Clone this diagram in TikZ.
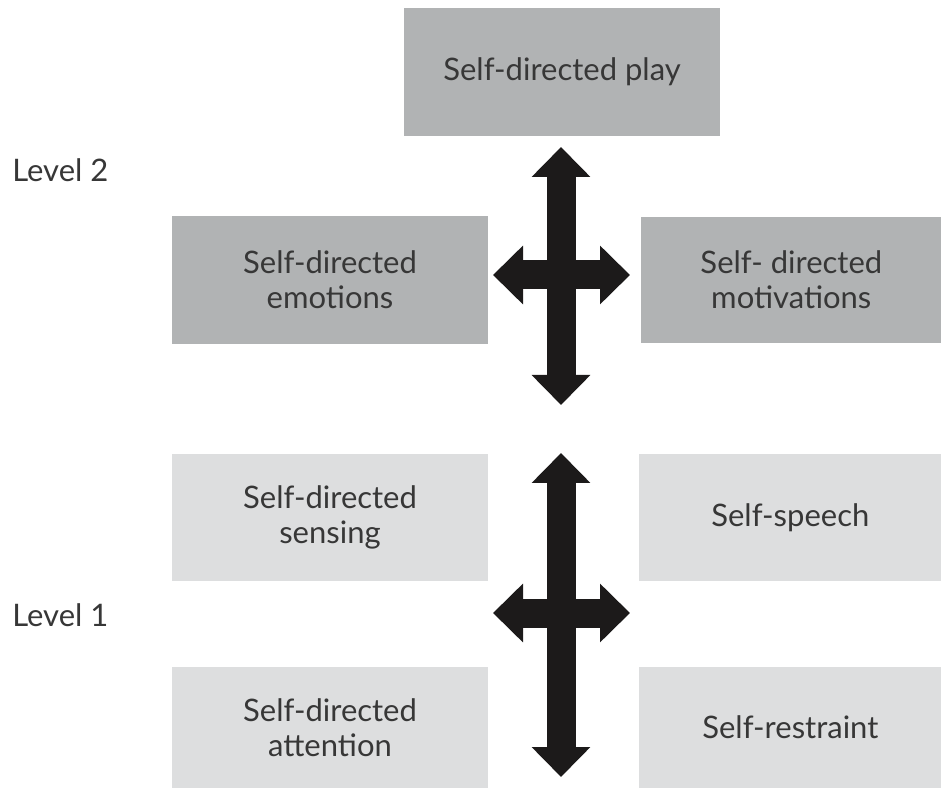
\documentclass[tikz,border=0pt]{standalone}
\usepackage{fontspec}
\setmainfont{Lato}
\usetikzlibrary{arrows.meta,positioning}
\definecolor{level_two}{RGB}{177,179,180}
\definecolor{level_one}{RGB}{221,222,223}
\definecolor{text_gray}{RGB}{55,55,55}
\definecolor{arrow_black}{RGB}{28,26,26}

\begin{document}
\begin{tikzpicture}[x=0.5pt,y=0.5pt,
    font=\fontsize{15.5}{17.5}\selectfont, text=text_gray,
    box/.style={inner sep=0pt, align=center, minimum width=158pt, minimum height=64pt},
    bigarrow/.style={line width=14.5pt, draw=arrow_black,
        {Triangle[width=28.5pt,length=15pt]}-{Triangle[width=28.5pt,length=15pt]}}]
        \useasboundingbox (0,0) rectangle (941,787);

        % level 2
        \node[box, fill=level_two] (play) at (562,715) {Self-directed play};
        \node[box, fill=level_two] (emotions) at (330,507) {Self-directed\\emotions};
        \node[box, fill=level_two, minimum width=150.5pt, minimum height=63pt, right=76pt of emotions] (motivations) {Self- directed\\motivations};
        \node[anchor=west, inner sep=0pt] (level_two_label) at (12,617) {Level 2};

        % level 1
        \node[box, fill=level_one, minimum height=63.5pt, below=54.5pt of emotions] (sensing) {Self-directed\\sensing};
        \node[box, fill=level_one, minimum width=151.5pt, minimum height=63.5pt, right=75pt of sensing] (speech) {Self-speech};
        \node[box, fill=level_one, minimum height=61pt, below=42.5pt of sensing] (attention) {Self-directed\\attention};
        \node[box, fill=level_one, minimum width=151.5pt, minimum height=61pt, right=75pt of attention] (restraint) {Self-restraint};
        \node[anchor=west, inner sep=0pt] (level_one_label) at (12,172) {Level 1};

        % crossed arrows
        \coordinate (upper_top) at (561,640);
        \coordinate (upper_bottom) at (561,382);
        \coordinate (upper_left) at (493,512);
        \coordinate (upper_right) at (630,512);
        \coordinate (lower_top) at (561,334);
        \coordinate (lower_bottom) at (561,10);
        \coordinate (lower_left) at (493,174);
        \coordinate (lower_right) at (630,174);

        \draw[bigarrow] (upper_bottom) -- (upper_top);
        \draw[bigarrow] (upper_left) -- (upper_right);
        \draw[bigarrow] (lower_bottom) -- (lower_top);
        \draw[bigarrow] (lower_left) -- (lower_right);
    \end{tikzpicture}
\end{document}
